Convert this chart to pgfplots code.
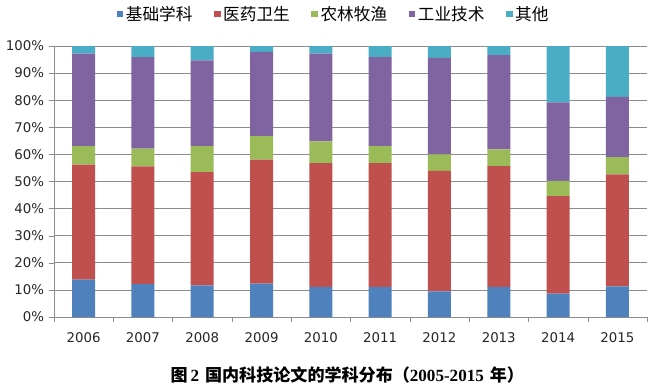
\documentclass[border=0pt]{standalone}
\usepackage{pgfplots}
\pgfplotsset{compat=1.18}
\usepackage{fontspec}
\setmainfont{DejaVu Sans}
\newfontfamily\cjk{Noto Sans CJK SC}
\newfontfamily\capser{Liberation Serif}
\definecolor{cA}{HTML}{4F81BD}
\definecolor{cB}{HTML}{C0504D}
\definecolor{cC}{HTML}{9BBB59}
\definecolor{cD}{HTML}{8064A2}
\definecolor{cE}{HTML}{4BACC6}
\definecolor{gridgray}{RGB}{140,140,140}
\begin{document}
\begin{tikzpicture}
\path[use as bounding box] (-40.5pt,-51.75pt) rectangle (447pt,237.75pt);
\begin{axis}[
  at={(0pt,0pt)}, anchor=south west,
  scale only axis, width=444.75pt, height=203.25pt,
  ybar stacked, bar width=17.25pt,
  xmin=-0.5, xmax=9.5, ymin=0, ymax=100,
  xtick={-0.5,0.5,...,9.5},
  x tick label as interval,
  xticklabels={2006,2007,2008,2009,2010,2011,2012,2013,2014,2015},
  ytick={0,10,...,100},
  yticklabels={0\%,10\%,20\%,30\%,40\%,50\%,60\%,70\%,80\%,90\%,100\%},
  axis x line=bottom, axis y line=left,
  axis line style={draw=gridgray,-},
  tick style={draw=gridgray},
  tick align=outside, major tick length=4pt,
  ymajorgrids, grid style={draw=gridgray, line width=0.6pt},
  ticklabel style={font=\fontsize{10}{12}\selectfont, text=black!85},
  xticklabel style={yshift=-4pt},
  legend style={at={(0.472,1.118)}, anchor=center, draw=none, fill=none,
    legend columns=5, font=\cjk\fontsize{12.5}{14}\selectfont,
    /tikz/every even column/.append style={column sep=14pt}},
  every axis plot post/.append style={draw=none},
  legend image code/.code={\fill[#1] (0pt,-2.5pt) rectangle (5pt,2.5pt);},
]
\addplot[fill=cA] coordinates {(0,13.8) (1,12.1) (2,11.7) (3,12.3) (4,11.1) (5,11.1) (6,9.5) (7,11.1) (8,8.6) (9,11.3)};
\addplot[fill=cB] coordinates {(0,42.4) (1,43.5) (2,41.8) (3,45.8) (4,45.7) (5,45.7) (6,44.4) (7,44.6) (8,36.0) (9,41.3)};
\addplot[fill=cC] coordinates {(0,6.9) (1,6.5) (2,9.6) (3,8.6) (4,8.0) (5,6.3) (6,6.1) (7,6.2) (8,5.6) (9,6.4)};
\addplot[fill=cD] coordinates {(0,34.1) (1,33.8) (2,31.6) (3,31.1) (4,32.4) (5,32.8) (6,35.6) (7,34.7) (8,29.0) (9,22.2)};
\addplot[fill=cE] coordinates {(0,2.8) (1,4.1) (2,5.3) (3,2.2) (4,2.8) (5,4.1) (6,4.4) (7,3.4) (8,20.8) (9,18.8)};
\legend{基础学科,医药卫生,农林牧渔,工业技术,其他}
\end{axis}
\node[font=\fontsize{12.8}{14}\selectfont\bfseries] at (220pt,-43.5pt)
  {{\cjk 图}\,{\capser 2} {\cjk 国内科技论文的学科分布（}{\capser 2005-2015} {\cjk 年）}};
\end{tikzpicture}
\end{document}
